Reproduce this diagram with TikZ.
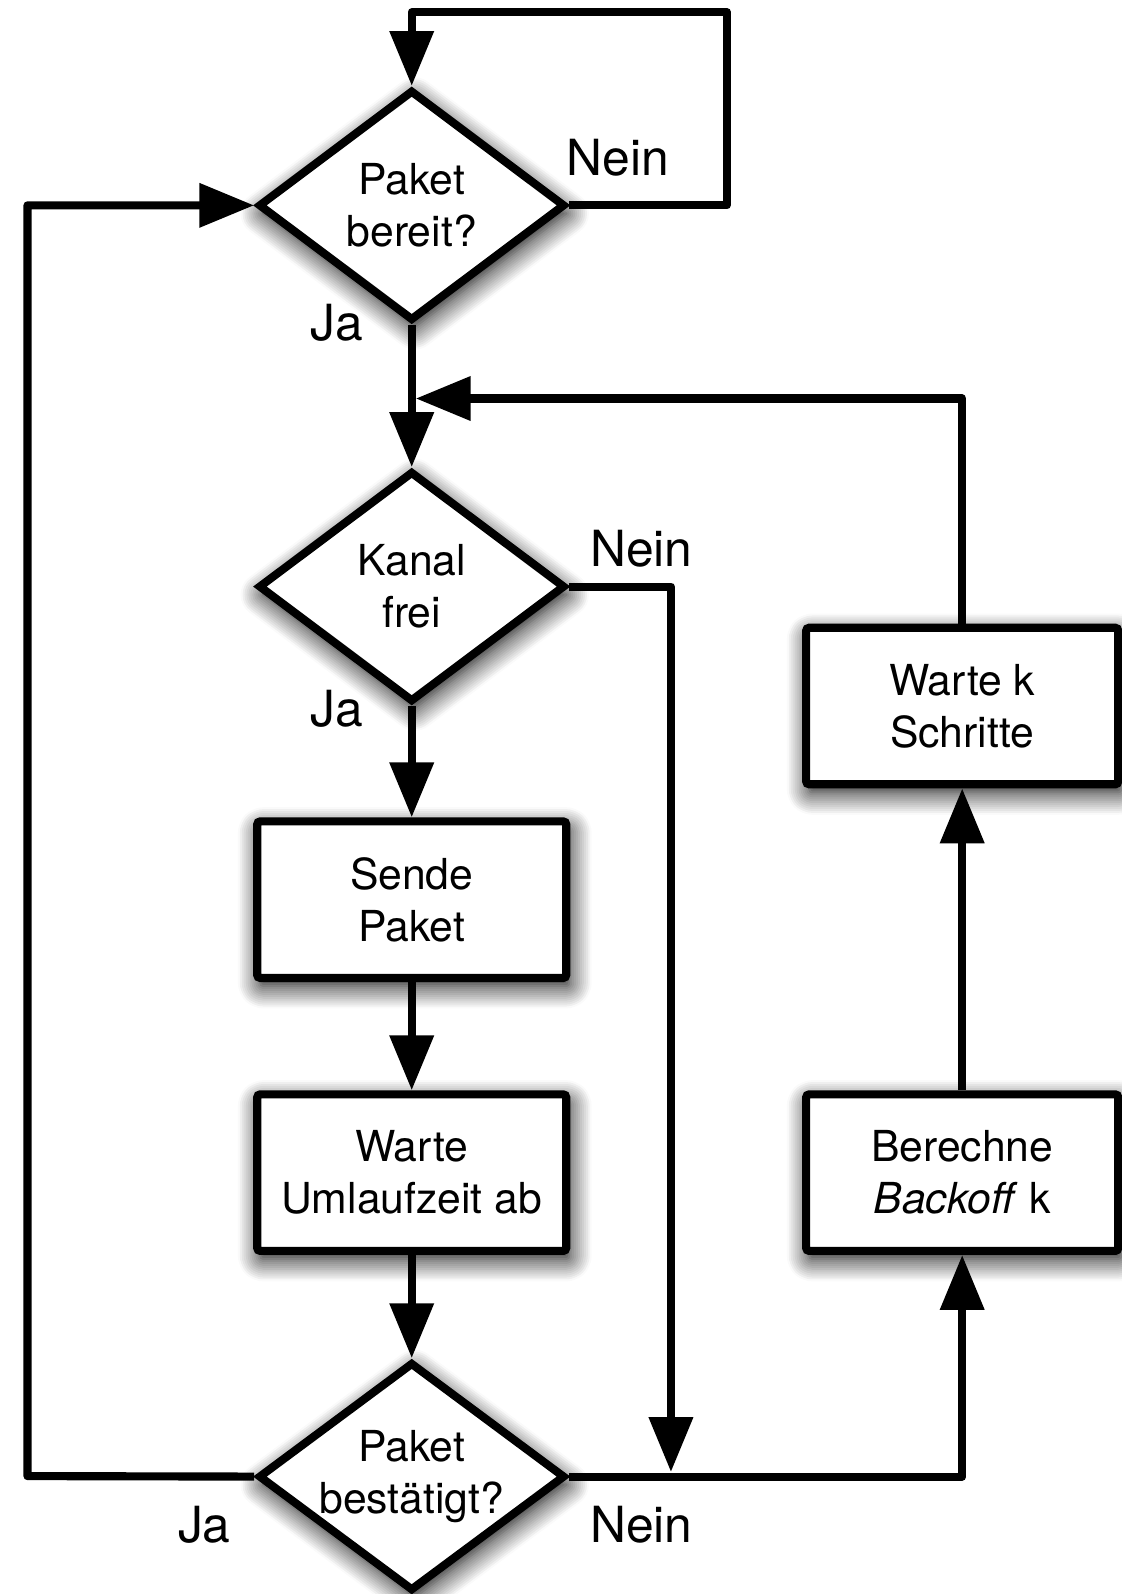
\documentclass[tikz,border=0pt]{standalone}
\usepackage{fontspec}
\setmainfont{TeX Gyre Heros}
\usetikzlibrary{shapes.geometric,arrows.meta,shadows.blur}
\begin{document}
\begin{tikzpicture}[x=0.5pt,y=-0.5pt,
  base/.style={draw=black, line width=4pt, fill=white, align=center,
    font=\fontsize{21}{25.5}\selectfont,
    blur shadow={shadow xshift=1.5pt, shadow yshift=-4pt, shadow blur radius=11pt, shadow blur steps=12, shadow opacity=100}},
  dec/.style={base, diamond, minimum width=151pt, minimum height=113.5pt, inner sep=0pt},
  dtext/.style={align=center, font=\fontsize{21}{25.5}\selectfont, inner sep=0pt},
  box/.style={base, rectangle, rounded corners=1.5pt, minimum width=152pt, minimum height=77pt, inner sep=0pt},
  conn/.style={line width=4pt, line join=round},
  arr/.style={conn, -{Triangle[length=27pt,width=21pt]}},
  lbl/.style={font=\fontsize{24.5}{29}\selectfont, inner sep=0pt}]
\useasboundingbox (0,0) rectangle (1103,1568);

\node[dec, label={[dtext]center:Paket\\bereit?}] (d1) at (405,202) {};
\node[dec, label={[dtext]center:Kanal\\frei}] (d2) at (405,577) {};
\node[box] (sp) at (405,885) {Sende\\Paket};
\node[box] (ua) at (405,1153.5) {Warte\\Umlaufzeit ab};
\node[dec, minimum height=112.5pt, label={[dtext]center:Paket\\bestätigt?}] (d3) at (405,1452.5) {};
\node[box, minimum width=153.5pt] (wk) at (946.5,694.5) {Warte k\\Schritte};
\node[box, minimum width=153.5pt] (bk) at (946.5,1153.5) {Berechne\\\textit{Backoff} k};

\coordinate (tr) at (715,12);
\coordinate (bl) at (27,1452);
\coordinate (jn) at (409,392);
\coordinate (kn) at (660,1448);

\draw[arr] (d1.east) -| (tr) -| (d1.north);
\draw[arr] (d3.west) -- (bl) |- (d1.west);
\draw[arr] (d1.south) -- (d2.north);
\draw[arr] (wk.north) |- (jn);
\draw[arr] (d2.east) -| (kn);
\draw[arr] (d2.south) -- (sp.north);
\draw[arr] (sp.south) -- (ua.north);
\draw[arr] (ua.south) -- (d3.north);
\draw[arr] (d3.east) -| (bk.south);
\draw[arr] (bk.north) -- (wk.south);

\node[lbl] (n1) at (608,155) {Nein};
\node[lbl] (j1) at (331,318) {Ja};
\node[lbl] (n2) at (631,540) {Nein};
\node[lbl] (j2) at (331,697) {Ja};
\node[lbl] (j3) at (201,1500) {Ja};
\node[lbl] (n3) at (631,1500) {Nein};
\end{tikzpicture}
\end{document}
